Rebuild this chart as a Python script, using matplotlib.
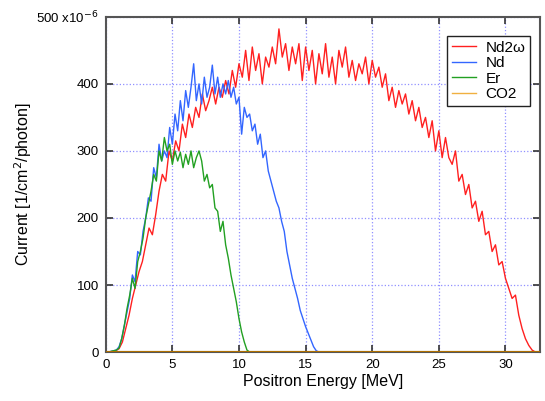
import numpy as np
import matplotlib
matplotlib.use('Agg')
import matplotlib.pyplot as plt

plt.rcParams['font.family'] = ['Liberation Sans', 'DejaVu Sans']

# positron energy grids [MeV]
red_step, nd_step, er_step = 0.25, 0.2, 0.2

# Nd2w current [1e-6 /cm^2/photon], 0.25 MeV steps
nd2w = [0, 0, 1, 2, 5, 15, 35, 55, 80, 100, 120, 135, 160, 185, 175, 205,
        240, 265, 255, 300, 285, 315, 300, 340, 320, 355, 335, 365, 350, 385,
        360, 375, 395, 370, 395, 380, 405, 385, 420, 395, 430, 410, 450, 405,
        455, 420, 445, 400, 440, 425, 455, 430, 482, 440, 460, 420, 455, 430,
        460, 405, 455, 420, 450, 400, 445, 415, 460, 410, 440, 400, 450, 425,
        455, 410, 435, 405, 430, 415, 440, 400, 435, 410, 425, 395, 415, 375,
        395, 365, 390, 370, 385, 355, 375, 345, 365, 335, 350, 320, 345, 300,
        330, 290, 320, 290, 280, 300, 255, 265, 235, 250, 215, 225, 195, 210,
        175, 180, 150, 160, 130, 135, 110, 95, 80, 85, 55, 35, 20, 10, 3, 0]

# Nd, 0.2 MeV steps
nd = [0, 0, 1, 2, 3, 8, 20, 40, 60, 80, 115, 105, 150, 145, 180, 200, 230,
      225, 275, 260, 310, 285, 300, 290, 335, 310, 355, 330, 375, 345, 390,
      365, 395, 430, 375, 400, 370, 410, 380, 395, 428, 385, 410, 380, 400,
      385, 405, 380, 395, 370, 380, 325, 365, 350, 355, 330, 340, 310, 325,
      290, 300, 270, 255, 240, 225, 215, 195, 180, 150, 130, 110, 95, 80, 62,
      50, 38, 28, 18, 8, 2, 0]

# Er, 0.2 MeV steps
er = [0, 0, 1, 2, 3, 6, 20, 40, 65, 85, 110, 95, 135, 150, 170, 200, 220,
      240, 265, 255, 300, 285, 320, 300, 310, 280, 300, 285, 298, 275, 295,
      280, 300, 275, 290, 300, 285, 255, 265, 245, 250, 215, 210, 180, 195,
      160, 140, 115, 95, 75, 50, 30, 15, 3, 0]

# CO2 stays at zero over the whole range
co2_energy = [0, 33]
co2 = [0, 0]

e_red = np.arange(len(nd2w)) * red_step
e_nd = np.arange(len(nd)) * nd_step
e_er = np.arange(len(er)) * er_step

fig = plt.figure(figsize=(5.45, 4.01), dpi=100)
ax = fig.add_axes([0.194, 0.122, 0.797, 0.836])

ax.plot(e_red, nd2w, color='#ff2020', lw=1.0, label='Nd2\u03c9')
ax.plot(e_nd, nd, color='#3366ff', lw=1.0, label='Nd')
ax.plot(e_er, er, color='#22a022', lw=1.0, label='Er')
ax.plot(co2_energy, co2, color='#f0b040', lw=1.0, label='CO2')
ax.plot(co2_energy, co2, color='#b07000', lw=1.5, zorder=5)

ax.set_xlim(0, 32.6)
ax.set_ylim(0, 500)
ax.set_xticks([0, 5, 10, 15, 20, 25, 30])
ax.set_yticks([0, 100, 200, 300, 400, 500])
ax.set_yticklabels(['0', '100', '200', '300', '400', '500 x10$^{-6}$'])
ax.grid(True, color='#9090ff', linestyle=':', lw=0.9)
ax.tick_params(direction='in', length=5, width=1.2, top=True, right=True,
               labelsize=9.5, colors='#333333', labelcolor='black', pad=5)
for s in ax.spines.values():
    s.set_color('#555555')
    s.set_linewidth(1.5)

ax.set_xlabel('Positron Energy [MeV]', fontsize=11.5, labelpad=2)
ax.set_ylabel('Current [1/cm$^2$/photon]', fontsize=11.5)
ax.yaxis.set_label_coords(-0.165, 0.5)

leg = ax.legend(loc='upper right', bbox_to_anchor=(0.977, 0.943), fontsize=11,
                fancybox=False, framealpha=1, edgecolor='#222222',
                handlelength=1.6, handletextpad=0.6, borderpad=0.3,
                labelspacing=0.1, borderaxespad=0)
leg.get_frame().set_linewidth(1.0)

fig.savefig('out.png', dpi=100)
